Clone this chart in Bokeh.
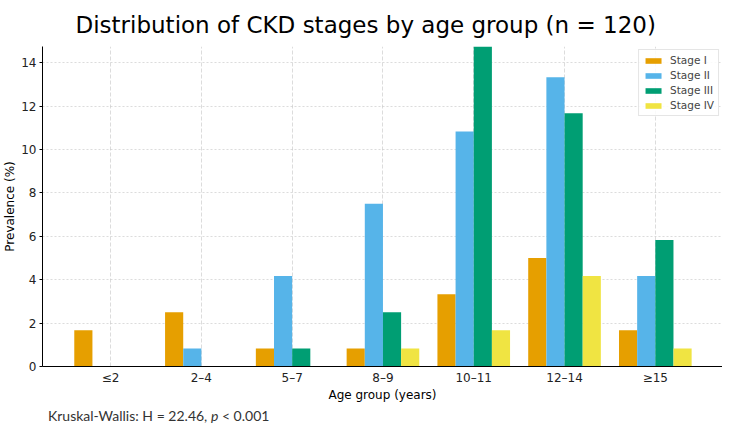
from bokeh.plotting import figure
from bokeh.models import ColumnDataSource, FixedTicker, Range1d, Legend, LegendItem, Div
from bokeh.layouts import column
from bokeh.transform import dodge
from bokeh.embed import file_html
from bokeh.resources import INLINE

age_groups = ["≤2", "2–4", "5–7", "8–9", "10–11", "12–14", "≥15"]
stage_1 = [1.67, 2.50, 0.83, 0.83, 3.33, 5.00, 1.67]
stage_2 = [0.00, 0.83, 4.17, 7.50, 10.83, 13.33, 4.17]
stage_3 = [0.00, 0.00, 0.83, 2.50, 15.00, 11.67, 5.83]
stage_4 = [0.00, 0.00, 0.00, 0.83, 1.67, 4.17, 0.83]
stage_names = ["Stage I", "Stage II", "Stage III", "Stage IV"]
stage_colors = ["#E69F00", "#56B4E9", "#009E73", "#F0E442"]
y_ticks = [0, 2, 4, 6, 8, 10, 12, 14]
stat_text = 'Kruskal-Wallis: H = 22.46, <i>p</i> &lt; 0.001'

idx = list(range(len(age_groups)))
src = ColumnDataSource(dict(x=idx, s1=stage_1, s2=stage_2, s3=stage_3, s4=stage_4))

p = figure(width=722, height=404, output_backend="svg", toolbar_location=None,
           x_range=Range1d(-0.75, 6.74), y_range=Range1d(0, 14.75),
           min_border_left=0, min_border_right=0, min_border_top=0, min_border_bottom=0)
p.title.text = "Distribution of CKD stages by age group (n = 120)"
p.title.align = "left"
p.title.offset = 33
p.title.text_font = "DejaVu Sans"
p.title.text_font_size = "23px"
p.title.text_font_style = "normal"
p.title.text_color = "#000000"
p.title.standoff = 18

p.outline_line_color = None
p.background_fill_color = "white"

offsets = [-0.3, -0.1, 0.1, 0.3]
fields = ["s1", "s2", "s3", "s4"]
items = []
for f, off, name, col in zip(fields, offsets, stage_names, stage_colors):
    r = p.vbar(x=dodge("x", off, range=p.x_range), top=f, width=0.2, source=src,
               fill_color=col, line_color=None)
    items.append(LegendItem(label=name, renderers=[r]))

legend = Legend(items=items, location="top_right")
legend.label_text_font = "DejaVu Sans"
legend.label_text_font_size = "10.5px"
legend.glyph_width = 20
legend.glyph_height = 7
legend.label_height = 10
legend.spacing = 3
legend.padding = 4
legend.margin = 3
legend.border_line_color = "#cccccc"
legend.border_line_width = 1
legend.background_fill_alpha = 0.85
legend.label_standoff = 7
p.add_layout(legend, "center")

for ax in (p.xaxis, p.yaxis):
    ax.axis_line_color = "#000000"
    ax.axis_line_width = 1
    ax.major_tick_line_color = "#000000"
    ax.major_tick_out = 3
    ax.major_tick_in = 0
    ax.minor_tick_line_color = None
    ax.major_label_text_font = "DejaVu Sans"
    ax.major_label_text_font_size = "12px"
    ax.major_label_text_color = "#222222"
    ax.axis_label_text_font = "DejaVu Sans"
    ax.axis_label_text_font_size = "12px"
    ax.axis_label_text_font_style = "normal"
    ax.axis_label_text_color = "#000000"
    ax.major_label_standoff = 3
    ax.axis_label_standoff = 1

p.xaxis.ticker = FixedTicker(ticks=idx)
p.xaxis.major_label_overrides = {i: g for i, g in zip(idx, age_groups)}
p.xaxis.major_tick_out = 0
p.xaxis.major_label_standoff = 4
p.xaxis.axis_label_standoff = 0
p.xaxis.axis_label = "Age group (years)"
p.yaxis.ticker = FixedTicker(ticks=y_ticks)
p.yaxis.axis_label = "Prevalence (%)"

for g in (p.xgrid, p.ygrid):
    g.grid_line_color = "#c0c0c0"
    g.grid_line_alpha = 0.7
    g.grid_line_width = 0.8
p.xgrid.grid_line_dash = "4 2"
p.ygrid.grid_line_dash = "2 2"
p.xgrid.ticker = FixedTicker(ticks=idx)
p.ygrid.ticker = FixedTicker(ticks=y_ticks)

note = Div(text=stat_text, width=700, height=15,
           styles={"font-family": "Lato, 'Open Sans', sans-serif", "font-size": "14px",
                   "color": "#333333", "margin-left": "48px", "line-height": "14px"})

layout = column(p, note, spacing=0)
open("out.html", "w").write(file_html(layout, INLINE))
